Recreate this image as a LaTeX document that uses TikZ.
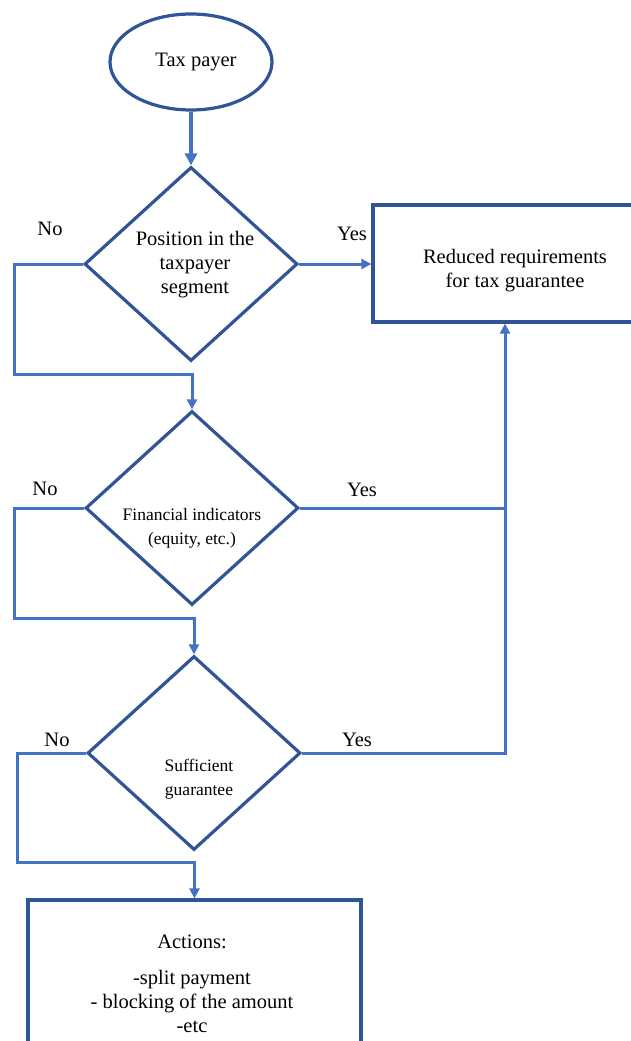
\documentclass[tikz,border=0pt]{standalone}
\usepackage{fontspec}
\setmainfont{Liberation Serif}
\usetikzlibrary{arrows.meta, shapes.geometric, positioning}

\definecolor{shapeblue}{RGB}{47,85,151}
\definecolor{lineblue}{RGB}{68,114,196}

\begin{document}
\begin{tikzpicture}[x=1pt,y=-1pt,>={Triangle[length=10pt,width=10pt]},
      every node/.style={font=\fontsize{20.5}{24}\selectfont},
      start/.style={ellipse,draw=shapeblue,line width=3.2pt,minimum width=162pt,minimum height=96pt,inner sep=0pt},
      decision/.style={diamond,draw=shapeblue,line width=3.2pt,minimum width=213pt,minimum height=194pt,inner sep=0pt},
      block/.style={rectangle,draw=shapeblue,line width=3.2pt,inner sep=0pt},
      txt/.style={align=center,inner sep=0pt},
      small/.style={font=\fontsize{17.5}{24}\selectfont},
      link/.style={draw=lineblue,line width=3pt},
      answer/.style={inner sep=0pt}]

      \clip (0,0) rectangle (631,1041);

      % shapes
      \node[start]    (tp)  at (191,62)    {\hspace{10pt}Tax payer};
      \node[decision] (d1)  at (191,264)   {};
      \node[txt]      (d1t) at (195,265)   {Position in the\\taxpayer\\segment};
      \node[decision] (d2)  at (192,508)   {};
      \node[txt,small] (d2t) at (192,528)  {Financial indicators\\(equity, etc.)};
      \node[decision] (d3)  at (194,753)   {};
      \node[txt,small] (d3t) at (199,779)  {Sufficient\\guarantee};
      \node[block,minimum width=284pt,minimum height=117pt] (red) at (515,263.5) {};
      \node[txt]      (redt) at (515,271)  {Reduced requirements\\for tax guarantee};
      \node[block,minimum width=333pt,minimum height=170pt] (act) at (194.5,985) {};
      \node[txt] (actt) at (192,984) {Actions:\\[12pt]-split payment\\- blocking of the amount\\-etc};

      % answers
      \node[answer] (no1)  at (50,229)  {No};
      \node[answer] (yes1) at (352,234) {Yes};
      \node[answer] (no2)  at (45,489)  {No};
      \node[answer] (yes2) at (362,490) {Yes};
      \node[answer] (no3)  at (57,740)  {No};
      \node[answer] (yes3) at (357,740) {Yes};

      % connectors
      \coordinate (n1) at (14,374);
      \coordinate (n2) at (14,618);
      \coordinate (n3) at (17,862);
      \coordinate (j)  at (505,753);

      \draw[link,->,line width=4.4pt,>={Triangle[length=12pt,width=12pt]}] (tp.south) -- (d1.north);
      \draw[link,->] (d1.east) -- (d1.east -| red.west);
      \draw[link,->] (d1.west) -| (n1) -| (d2.north);
      \draw[link,->] (d2.west) -| (n2) -| (d3.north);
      \draw[link,->] (d3.west) -| (n3) -| (act.north);
      \draw[link] (d2.east) -- (d2.east -| j);
      \draw[link,->] (d3.east) -- (j) -- (j |- red.south);
\end{tikzpicture}
\end{document}
